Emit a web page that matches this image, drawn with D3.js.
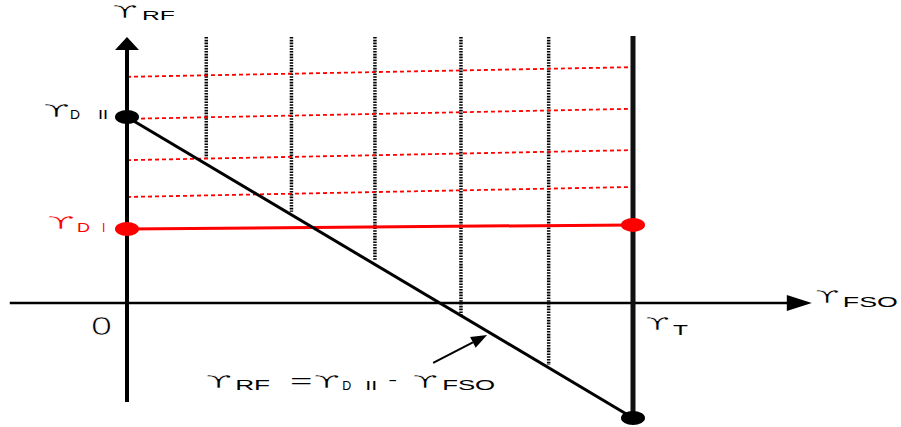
<!DOCTYPE html>
<html>
<head>
<meta charset="utf-8">
<script src="https://cdn.jsdelivr.net/npm/d3@7"></script>
<style>
body { margin: 0; background: #fff; }
svg { display: block; }
</style>
</head>
<body>
<div id="c"></div>
<script>
"use strict";

// gamma_FSO axis, gamma_T = 6 units
const gammaT = 6
const gridX = [0.94, 1.95, 2.94, 3.96, 5.0]
const gridTop = 7.15
const gridBottom = [3.84, 2.45, 1.16, -0.32, -1.67]
// red dashed levels at the left and right end (picture is slightly tilted)
const dashLeft = [6.08, 4.95, 3.84, 2.85]
const dashRight = [6.34, 5.22, 4.11, 3.12]
const gammaDII = 5
const gammaDI = [1.99, 2.10]
const lineEnd = -3.09          // gamma_RF reached at gamma_T
const yAxisRange = [-2.66, 7.15]
const xAxisRange = [-1.39, 8.12]
const tLineRange = [-3.09, 7.18]
const pointer = [[3.63, -1.61], [4.27, -0.86]]

const G = "\u03D2"
const titleText = ["RF"]
const labelDII = ["D", "II"]
const labelDI = ["D", "I"]
const labelFSO = "FSO"
const labelT = "T"
const formula = ["RF", "=", "D", "II", "-", "FSO"]

let svg, xScale, yScale

window.onload = function() {
    createChart()
}

// every part is stretched to the width it has in the picture
function label(x, y, color, parts) {
    let g = svg.append('g')
        .attr('transform', 'translate(' + x + ',' + y + ')')
        .attr('fill', color)
    parts.forEach(p => {
        let t = g.append('text')
            .attr('x', p.dx)
            .attr('y', p.dy || 0)
            .style('font-family', p.font || '"Liberation Sans", Arial, sans-serif')
            .style('font-size', (p.size || 13) + 'px')
            .text(p.t)
        if (p.w) t.attr('textLength', p.w).attr('lengthAdjust', 'spacingAndGlyphs')
        // thin the heavy glyphs a little
        if (p.thin) t.attr('stroke', '#fff').attr('stroke-width', p.thin)
    })
}

function gam(dx, dy, w) {
    return { t: G, dx: dx, dy: dy, w: w, size: 18, thin: 0.6, font: '"DejaVu Sans", sans-serif' }
}

function createChart() {
    svg = d3.select('#c').append('svg')
        .attr('width', 901)
        .attr('height', 427)

    xScale = d3.scaleLinear().domain([0, gammaT]).range([127, 633])
    yScale = d3.scaleLinear().domain([0, gammaDII]).range([303, 117])

    // black dotted verticals
    svg.append('g').selectAll('line')
        .data(gridX)
        .enter().append('line')
            .attr('x1', d => xScale(d)).attr('x2', d => xScale(d))
            .attr('y1', yScale(gridTop))
            .attr('y2', (d, i) => yScale(gridBottom[i]))
            .attr('stroke', '#000')
            .attr('stroke-width', 3.5)
            .attr('stroke-dasharray', '1.6,1.2')

    // red dashed levels
    svg.append('g').selectAll('line')
        .data(dashLeft)
        .enter().append('line')
            .attr('x1', xScale(0)).attr('x2', xScale(gammaT))
            .attr('y1', d => yScale(d))
            .attr('y2', (d, i) => yScale(dashRight[i]))
            .attr('stroke', '#ff0000')
            .attr('stroke-width', 1.8)
            .attr('stroke-dasharray', '4,3')

    // x axis
    svg.append('line')
        .attr('x1', xScale(xAxisRange[0])).attr('x2', xScale(xAxisRange[1]) - 20)
        .attr('y1', yScale(0)).attr('y2', yScale(0))
        .attr('stroke', '#000').attr('stroke-width', 2.5)
    let xt = xScale(xAxisRange[1]), y0 = yScale(0)
    svg.append('path')
        .attr('d', 'M' + xt + ',' + y0 + 'L' + (xt - 25) + ',' + (y0 - 8) + 'L' + (xt - 25) + ',' + (y0 + 8) + 'Z')
        .attr('fill', '#000')

    // y axis
    let x0 = xScale(0), yt = yScale(yAxisRange[1])
    svg.append('line')
        .attr('x1', x0).attr('x2', x0)
        .attr('y1', yScale(yAxisRange[0])).attr('y2', yt + 10)
        .attr('stroke', '#000').attr('stroke-width', 4)
    svg.append('path')
        .attr('d', 'M' + x0 + ',' + yt + 'L' + (x0 - 12) + ',' + (yt + 13) + 'L' + (x0 + 12) + ',' + (yt + 13) + 'Z')
        .attr('fill', '#000')

    // gamma_T vertical
    svg.append('line')
        .attr('x1', xScale(gammaT)).attr('x2', xScale(gammaT))
        .attr('y1', yScale(tLineRange[0])).attr('y2', yScale(tLineRange[1]))
        .attr('stroke', '#111').attr('stroke-width', 5)

    // red gamma_D I line
    svg.append('line')
        .attr('x1', xScale(0)).attr('x2', xScale(gammaT))
        .attr('y1', yScale(gammaDI[0])).attr('y2', yScale(gammaDI[1]))
        .attr('stroke', '#ff0000').attr('stroke-width', 3)

    // gamma_RF = gamma_D II - gamma_FSO
    svg.append('line')
        .attr('x1', xScale(0)).attr('x2', xScale(gammaT))
        .attr('y1', yScale(gammaDII)).attr('y2', yScale(lineEnd))
        .attr('stroke', '#000').attr('stroke-width', 3)

    // end points
    const dots = [
        { x: 0, y: gammaDII, c: '#000' },
        { x: gammaT, y: lineEnd, c: '#000' },
        { x: 0, y: gammaDI[0], c: '#ff0000' },
        { x: gammaT, y: gammaDI[1], c: '#ff0000' }
    ]
    svg.append('g').selectAll('ellipse')
        .data(dots)
        .enter().append('ellipse')
            .attr('cx', d => xScale(d.x))
            .attr('cy', d => yScale(d.y))
            .attr('rx', 12).attr('ry', 7)
            .attr('fill', d => d.c)

    // pointer arrow
    let p0 = [xScale(pointer[0][0]), yScale(pointer[0][1])]
    let p1 = [xScale(pointer[1][0]), yScale(pointer[1][1])]
    let ang = Math.atan2(p1[1] - p0[1], p1[0] - p0[0])
    let hl = 16, hw = 6
    let bx = p1[0] - hl * Math.cos(ang), by = p1[1] - hl * Math.sin(ang)
    svg.append('line')
        .attr('x1', p0[0]).attr('y1', p0[1]).attr('x2', bx).attr('y2', by)
        .attr('stroke', '#000').attr('stroke-width', 2)
    svg.append('path')
        .attr('d', 'M' + p1[0] + ',' + p1[1]
            + 'L' + (bx + hw * Math.sin(ang)) + ',' + (by - hw * Math.cos(ang))
            + 'L' + (bx - hw * Math.sin(ang)) + ',' + (by + hw * Math.cos(ang)) + 'Z')
        .attr('fill', '#000')

    // labels
    label(x0, yt, '#000', [gam(-15, -19, 26),
        { t: titleText[0], dx: 15, dy: -17, w: 33, size: 13 }])
    label(x0, yScale(gammaDII), '#000', [gam(-84, 0, 27),
        { t: labelDII[0], dx: -57, dy: 2, w: 10, size: 12 },
        { t: labelDII[1], dx: -29, dy: 2, w: 10, size: 12 }])
    label(x0, yScale(gammaDI[0]), '#ff0000', [gam(-80, 0, 28),
        { t: labelDI[0], dx: -50, dy: 3, w: 13, size: 12 },
        { t: labelDI[1], dx: -25, dy: 3, size: 12 }])
    label(x0, y0, '#000', [{ t: '0', dx: -36, dy: 32, w: 21, size: 25, thin: 0.7 }])
    label(xt, y0, '#000', [gam(3, 0, 25),
        { t: labelFSO, dx: 31, dy: 4, w: 55, size: 14 }])
    label(xScale(gammaT), y0, '#000', [gam(12, 27, 25),
        { t: labelT, dx: 40, dy: 32, w: 15, size: 15 }])
    label(p0[0], p0[1], '#000', [
        gam(-228, 25, 27),
        { t: formula[0], dx: -198, dy: 27, w: 35, size: 14 },
        { t: formula[1], dx: -143, dy: 24, w: 22, size: 18 },
        gam(-120, 25, 27),
        { t: formula[2], dx: -91, dy: 27, w: 9, size: 12 },
        { t: formula[3], dx: -68, dy: 27, w: 12, size: 12 },
        { t: formula[4], dx: -45, dy: 22, w: 9, size: 14 },
        gam(-21, 25, 26),
        { t: formula[5], dx: 9, dy: 27, w: 53, size: 14 }])
}
</script>
</body>
</html>
